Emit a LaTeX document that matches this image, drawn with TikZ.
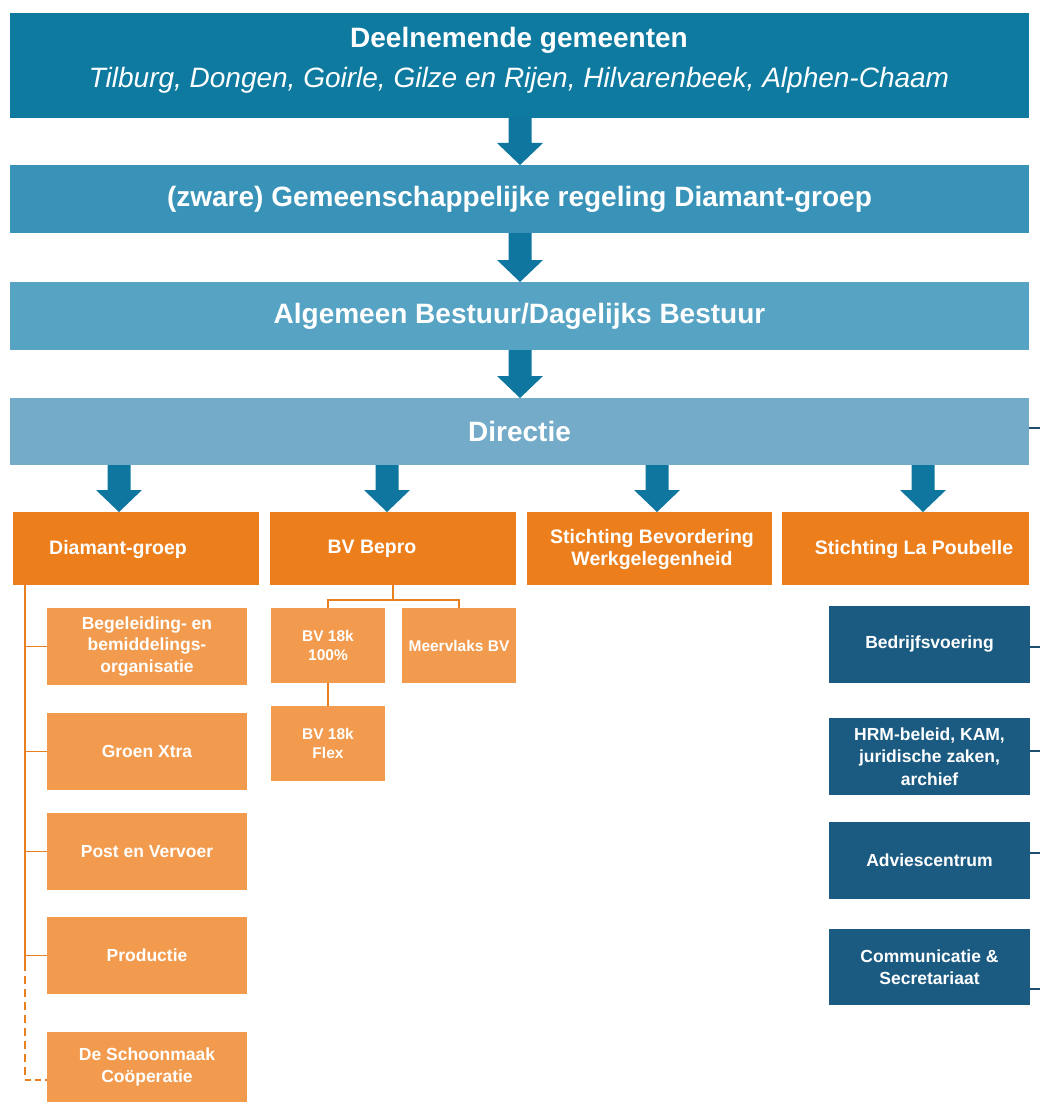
\documentclass[tikz,border=0pt]{standalone}
\usepackage{fontspec}
\setmainfont{Liberation Sans}
\usetikzlibrary{calc}
\definecolor{cA}{HTML}{0E7AA0}
\definecolor{cB}{HTML}{3993B8}
\definecolor{cC}{HTML}{56A3C4}
\definecolor{cD}{HTML}{73ABC8}
\definecolor{arrowblue}{HTML}{0F76A0}
\definecolor{orgA}{HTML}{EC7F1C}
\definecolor{orgB}{HTML}{F29B4E}
\definecolor{navy}{HTML}{1B5B82}
\definecolor{orgline}{HTML}{E9801F}
\definecolor{navyline}{HTML}{1D4E6E}
\newcommand\blockarrow[3]{%
  \fill[arrowblue] let \p1=(#2.south), \p2=(#3.north) in
   (#1pt-11.5pt,\y1) -- (#1pt+11.5pt,\y1) -- (#1pt+11.5pt,\y2+22pt) -- (#1pt+23pt,\y2+22pt)
   -- (#1pt,\y2) -- (#1pt-23pt,\y2+22pt) -- (#1pt-11.5pt,\y2+22pt) -- cycle;}
\begin{document}
\begin{tikzpicture}[x=1pt,y=-1pt,
  box/.style={rectangle, inner sep=0pt, outer sep=0pt, anchor=north west, text=white, align=center},
  bigfont/.style={font=\fontsize{28}{32}\selectfont\bfseries},
  orgfont/.style={text=white, align=center, inner sep=0pt, font=\fontsize{19.5}{22}\selectfont\bfseries},
  subfont/.style={font=\fontsize{17.5}{21.5}\selectfont\bfseries},
  bvfont/.style={font=\fontsize{15.5}{18.5}\selectfont\bfseries},
  navyfont/.style={font=\fontsize{17.5}{22.5}\selectfont\bfseries},
  wide/.style={minimum width=1019pt},
  topbox/.style={box, fill=orgA, minimum height=73pt},
  subbox/.style={box, fill=orgB, minimum width=200pt, minimum height=77pt, subfont},
  bvbox/.style={box, fill=orgB, minimum width=114pt, minimum height=75pt, bvfont},
  navybox/.style={box, fill=navy, minimum width=201pt, minimum height=77pt, navyfont},
  oline/.style={draw=orgline, line width=2.6pt},
  obranch/.style={draw=orgline, line width=1.7pt},
  nline/.style={draw=navyline, line width=2pt}]
\fill[white] (0,0) rectangle (1040,1102);
\useasboundingbox (0,0) rectangle (1040,1102);

% top rows
\node[box, fill=cA, wide, minimum height=105pt] (gem) at (10,13) {};
\node[bigfont, text=white, inner sep=0pt] (gemT) at (519,40) {Deelnemende gemeenten};
\node[text=white, inner sep=0pt, font=\fontsize{28}{32}\selectfont\itshape] (gemL) at (519,80) {Tilburg, Dongen, Goirle, Gilze en Rijen, Hilvarenbeek, Alphen-Chaam};
\node[box, fill=cB, wide, minimum height=68pt, bigfont] (reg) at (10,165) {(zware) Gemeenschappelijke regeling Diamant-groep};
\node[box, fill=cC, wide, minimum height=68pt, bigfont] (ab) at (10,282) {Algemeen Bestuur/Dagelijks Bestuur};
\node[box, fill=cD, wide, minimum height=67pt, bigfont] (dir) at (10,398) {Directie};

% orange level
\node[topbox, minimum width=246pt] (dg) at (13,512) {};
\node[topbox, minimum width=246pt] (bepro) at (270,512) {};
\node[topbox, minimum width=245pt] (sbw) at (527,512) {};
\node[topbox, minimum width=247pt] (lap) at (782,512) {};
\node[orgfont] (dgT) at (118,549) {Diamant-groep};
\node[orgfont] (beproT) at (372,549) {BV Bepro};
\node[orgfont] (sbwT) at (652,549) {Stichting Bevordering\\Werkgelegenheid};
\node[orgfont] (lapT) at (914,549) {Stichting La Poubelle};

% block arrows
\blockarrow{520}{gem}{reg}
\blockarrow{520}{reg}{ab}
\blockarrow{520}{ab}{dir}
\blockarrow{119}{dir}{dg}
\blockarrow{387}{dir}{bepro}
\blockarrow{657}{dir}{sbw}
\blockarrow{923}{dir}{lap}

% Diamant-groep sub-units
\node[subbox] (beg) at (47,608) {Begeleiding- en\\bemiddelings-\\organisatie};
\node[subbox] (groen) at (47,713) {Groen Xtra};
\node[subbox] (post) at (47,813) {Post en Vervoer};
\node[subbox] (prod) at (47,917) {Productie};
\node[subbox, minimum height=70pt] (schoon) at (47,1032) {De Schoonmaak\\Coöperatie};

\coordinate (spine) at (25,585);
\coordinate (spineEnd) at (25,963);
\coordinate (dashC) at (25,1080);
\draw[oline] (spine) -- (spineEnd);
\draw[oline, dash pattern=on 8pt off 5pt] (spineEnd) -- (dashC);
\draw[obranch, dash pattern=on 6pt off 4pt] (dashC) -- (dashC -| schoon.west);
\draw[obranch] (spine |- beg.west) -- (beg.west);
\draw[obranch] (spine |- groen.west) -- (groen.west);
\draw[obranch] (spine |- post.west) -- (post.west);
\draw[obranch] (spine |- prod.west) -- (prod.west);

% BV Bepro sub-units
\node[bvbox] (b100) at (271,608) {BV 18k\\100\%};
\node[bvbox] (meer) at (402,608) {Meervlaks BV};
\node[bvbox] (flex) at (271,706) {BV 18k\\Flex};
\coordinate (bj) at ($(bepro.south)+(0,15)$);
\draw[oline] (bepro.south) -- (bj);
\draw[oline] (b100.north) |- (bj) -| (meer.north);
\draw[oline] (b100.south) -- (flex.north);

% staff units
\node[navybox] (bed) at (829,606) {Bedrijfsvoering};
\node[navybox] (hrm) at (829,718) {HRM-beleid, KAM,\\juridische zaken,\\archief};
\node[navybox] (adv) at (829,822) {Adviescentrum};
\node[navybox, minimum height=76pt] (com) at (829,929) {Communicatie \&\\Secretariaat};

\coordinate (edgeD) at (1040,428);
\coordinate (edgeA) at (1040,647);
\coordinate (edgeB) at (1040,751);
\coordinate (edgeC) at (1040,853);
\coordinate (edgeE) at (1040,989);
\draw[nline] (dir.east |- edgeD) -- (edgeD);
\draw[nline] (bed.east |- edgeA) -- (edgeA);
\draw[nline] (hrm.east |- edgeB) -- (edgeB);
\draw[nline] (adv.east |- edgeC) -- (edgeC);
\draw[nline] (com.east |- edgeE) -- (edgeE);
\end{tikzpicture}
\end{document}
